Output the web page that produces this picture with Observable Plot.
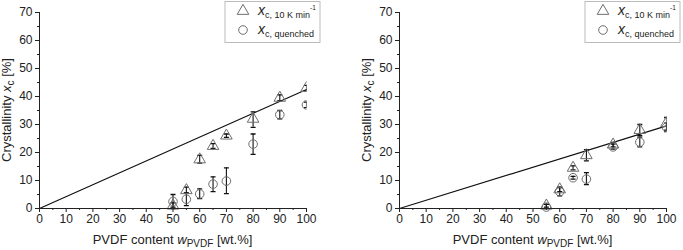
<!DOCTYPE html>
<html>
<head>
<meta charset="utf-8">
<script src="https://cdn.jsdelivr.net/npm/d3@7"></script>
<script src="https://cdn.jsdelivr.net/npm/@observablehq/plot@0.6"></script>
<style>
  body { margin: 0; background: #fff; font-family: "Liberation Sans", Arial, sans-serif; }
  #wrap { position: relative; width: 683px; height: 250px; }
  #wrap svg { position: absolute; top: 0; }
</style>
</head>
<body>
<div id="wrap"></div>
<script>
// ---- Data: panel A (left) ----
const wA = [50, 55, 60, 65, 70, 80, 90, 100];
const triA = [1.0, 6.5, 17.5, 22.3, 26.0, 32.0, 39.5, 43.0];
const triA_lo = [0.0, 5.5, 16.2, 21.5, 25.4, 29.0, 38.5, 42.0];
const triA_hi = [2.0, 7.6, 19.0, 23.2, 26.6, 34.5, 40.6, 44.0];
const cirA = [2.5, 3.3, 5.2, 8.7, 9.8, 23.0, 33.5, 37.0];
const cirA_lo = [0.5, 1.0, 3.5, 6.0, 5.3, 19.3, 32.0, 36.0];
const cirA_hi = [5.0, 5.6, 7.0, 11.3, 14.5, 26.6, 35.0, 38.0];
const lineA = [[0, 0], [100, 42.5]];

// ---- Data: panel B (right) ----
const wB = [55, 60, 65, 70, 80, 90, 100];
const triB = [1.0, 6.8, 14.5, 19.0, 22.8, 28.0, 30.5];
const triB_lo = [0.5, 6.0, 13.8, 17.0, 22.0, 26.0, 28.0];
const triB_hi = [1.5, 7.6, 15.2, 21.0, 23.6, 30.0, 32.5];
const cirB = [0.5, 6.0, 11.0, 10.5, 22.0, 23.7, 29.0];
const cirB_lo = [0.0, 4.5, 10.5, 8.5, 21.2, 22.0, 27.5];
const cirB_hi = [1.5, 7.5, 11.5, 12.8, 23.0, 25.5, 30.5];
const lineB = [[0, 0], [100, 29.5]];

const xTicks = d3.range(0, 101, 10);
const xMinor = d3.range(5, 100, 10);
const yTicks = d3.range(0, 71, 10);
const yMinor = d3.range(5, 70, 10);

const capSymbol = {
  draw(context, size) {
    const w = Math.sqrt(size / Math.PI);
    context.moveTo(-w, 0);
    context.lineTo(w, 0);
  }
};

const symColor = "#6e6e6e";
const FONT = "Liberation Sans, Arial, sans-serif";

function rows(x, v, lo, hi) {
  return x.map((d, i) => ({x: d, v: v[i], lo: lo[i], hi: hi[i]}));
}

function makePanel({w, left, right, tri, cir, line}) {
  const errMarks = (data) => [
    Plot.ruleX(data, {x: "x", y1: "lo", y2: "hi", stroke: "#111", strokeWidth: 1.1}),
    Plot.dot(data, {x: "x", y: "lo", symbol: capSymbol, r: 2.5, stroke: "#111", strokeWidth: 1.3}),
    Plot.dot(data, {x: "x", y: "hi", symbol: capSymbol, r: 2.5, stroke: "#111", strokeWidth: 1.3})
  ];
  return Plot.plot({
    width: w,
    height: 250,
    marginLeft: left,
    marginRight: right,
    marginTop: 12,
    marginBottom: 42,
    style: {fontFamily: FONT, fontSize: "12px", background: "transparent", color: "#222"},
    x: {domain: [0, 100]},
    y: {domain: [0, 70]},
    marks: [
      Plot.line(line, {x: d => d[0], y: d => d[1], stroke: "#111", strokeWidth: 1.2}),
      ...errMarks(tri),
      ...errMarks(cir),
      Plot.dot(tri, {x: "x", y: "v", symbol: "triangle", r: 4.3, stroke: symColor, fill: "none", strokeWidth: 1}),
      Plot.dot(cir, {x: "x", y: "v", symbol: "circle", r: 4.3, stroke: symColor, fill: "none", strokeWidth: 1}),
      Plot.frame({anchor: "bottom", stroke: "#222"}),
      Plot.frame({anchor: "left", stroke: "#222"}),
      Plot.axisX({ticks: xTicks, tickSize: 4, tickPadding: 2, fontSize: 12, label: null, tickFormat: d => d}),
      Plot.axisX({ticks: xMinor, tickSize: 2, tickFormat: () => "", label: null}),
      Plot.axisY({ticks: yTicks, tickSize: 4, tickPadding: 3, fontSize: 12, label: null, tickFormat: d => d}),
      Plot.axisY({ticks: yMinor, tickSize: 2, tickFormat: () => "", label: null})
    ]
  });
}

let clipId = 0;
function decorate(svgNode, {left, w, right, yLabelX}) {
  const svg = d3.select(svgNode);
  const frameL = left, frameR = w - right;
  const cx = (frameL + frameR) / 2;
  // clip data marks at the right edge of the frame (x = 100), as in the original
  const id = "clipR" + (clipId++);
  svg.insert("defs", ":first-child").append("clipPath").attr("id", id)
    .attr("clipPathUnits", "userSpaceOnUse")
    .append("rect").attr("x", 0).attr("y", 0).attr("width", frameR).attr("height", 250);
  Array.from(svgNode.children).forEach(el => {
    if (el.tagName.toLowerCase() !== "g") return;
    const aria = el.getAttribute("aria-label") || "";
    if (aria === "dot" || aria === "rule" || aria === "line") {
      el.setAttribute("clip-path", `url(#${id})`);
    }
  });
  // x label
  const xl = svg.append("text")
    .attr("x", cx).attr("y", 244)
    .attr("text-anchor", "middle")
    .attr("font-family", FONT).attr("font-size", 13).attr("fill", "#222");
  xl.append("tspan").text("PVDF content ");
  xl.append("tspan").attr("font-style", "italic").text("w");
  xl.append("tspan").attr("font-size", 10).attr("dy", 3).text("PVDF");
  xl.append("tspan").attr("dy", -3).text(" [wt.%]");
  // y label
  const yl = svg.append("text")
    .attr("transform", `translate(${yLabelX},110) rotate(-90)`)
    .attr("text-anchor", "middle")
    .attr("font-family", FONT).attr("font-size", 13).attr("fill", "#222");
  yl.append("tspan").text("Crystallinity ");
  yl.append("tspan").attr("font-style", "italic").text("x");
  yl.append("tspan").attr("font-size", 10).attr("dy", 3).text("c");
  yl.append("tspan").attr("dy", -3).text(" [%]");
  // legend
  const lx = frameR - 81;
  const g = svg.append("g");
  g.append("rect").attr("x", lx).attr("y", 1.5).attr("width", 95).attr("height", 41)
    .attr("fill", "white").attr("stroke", "#bbb").attr("stroke-width", 1);
  g.append("path").attr("d", d3.symbol(d3.symbolTriangle, Math.PI * 4.3 * 4.3)())
    .attr("transform", `translate(${lx + 18},${11})`)
    .attr("fill", "none").attr("stroke", symColor);
  g.append("circle").attr("cx", lx + 18).attr("cy", 30).attr("r", 4.3)
    .attr("fill", "none").attr("stroke", symColor);
  const t1 = g.append("text").attr("x", lx + 33).attr("y", 15)
    .attr("text-anchor", "start")
    .attr("font-family", FONT).attr("font-size", 14).attr("fill", "#222");
  t1.append("tspan").attr("font-style", "italic").text("x");
  t1.append("tspan").attr("font-size", 9).attr("dy", 3).text("c, 10 K min");
  t1.append("tspan").attr("font-size", 6.5).attr("dy", -8).text("-1");
  const t2 = g.append("text").attr("x", lx + 33).attr("y", 34)
    .attr("text-anchor", "start")
    .attr("font-family", FONT).attr("font-size", 14).attr("fill", "#222");
  t2.append("tspan").attr("font-style", "italic").text("x");
  t2.append("tspan").attr("font-size", 9).attr("dy", 3).text("c, quenched");
}

const wrap = document.getElementById("wrap");

const cfgA = {w: 341, left: 39, right: 35, yLabelX: 11};
const svgA = makePanel({...cfgA,
  tri: rows(wA, triA, triA_lo, triA_hi),
  cir: rows(wA, cirA, cirA_lo, cirA_hi),
  line: lineA});
svgA.style.left = "0px";
wrap.appendChild(svgA);
decorate(svgA, cfgA);

const cfgB = {w: 342, left: 58, right: 17, yLabelX: 30};
const svgB = makePanel({...cfgB,
  tri: rows(wB, triB, triB_lo, triB_hi),
  cir: rows(wB, cirB, cirB_lo, cirB_hi),
  line: lineB});
svgB.style.left = "341px";
wrap.appendChild(svgB);
decorate(svgB, cfgB);
</script>
</body>
</html>
